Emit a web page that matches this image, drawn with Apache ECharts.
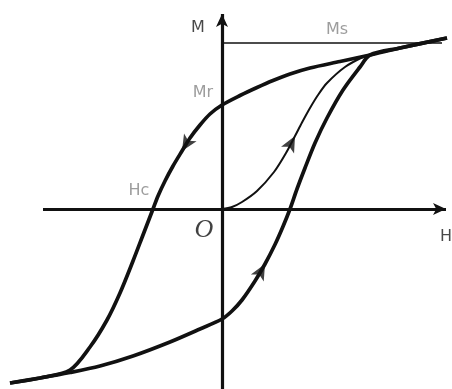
<!DOCTYPE html>
<html>
<head>
<meta charset="utf-8">
<script src="https://cdn.jsdelivr.net/npm/echarts@6/dist/echarts.min.js"></script>
<style>
  html, body { margin: 0; padding: 0; background: #fff; }
  #chart { width: 452px; height: 389px; }
</style>
</head>
<body>
<div id="chart"></div>
<script>
// Hysteresis loop M(H), arbitrary units
// Descending branch: +saturation -> Mr -> Hc -> -saturation
const H_desc = [22.5, 17.8, 14.8, 11.8, 8.8, 6.8, 5.1, 3.5, 1.8, 0, -1.2, -2.2, -3.2, -4.0, -4.9, -5.7, -6.4, -6.9, -7.9, -8.9, -10.2, -11.5, -13.2, -15.2, -18.2, -21.2];
const M_desc = [17.1, 16.1, 15.4, 14.75, 14.1, 13.5, 12.85, 12.15, 11.35, 10.4, 9.5, 8.4, 7.1, 5.8, 4.3, 2.8, 1.3, 0, -2.6, -5.2, -8.4, -11.1, -13.8, -16.1, -16.9, -17.4];
// Ascending branch: -saturation -> -Mr -> +Hc -> +saturation
const H_asc = [-21.2, -18.2, -15.2, -12.2, -8.9, -5.2, -2.2, 0, 1.0, 2.0, 3.3, 4.3, 5.3, 6.1, 6.8, 7.5, 8.3, 9.3, 10.5, 12.1, 13.8, 14.8, 17.8, 22.5];
const M_asc = [-17.4, -16.9, -16.35, -15.7, -14.7, -13.3, -12.0, -11.0, -10.2, -9.1, -7.2, -5.5, -3.55, -1.75, 0, 2.0, 4.1, 6.6, 9.1, 11.9, 14.2, 15.4, 16.1, 17.1];
// Initial magnetization curve from the origin
const H_init = [0, 1.0, 2.0, 3.5, 5.2, 6.4, 7.3, 8.0, 8.8, 9.6, 10.5, 12.3, 14.1, 14.8];
const M_init = [0, 0.2, 0.7, 1.8, 3.7, 5.6, 7.3, 8.65, 10.1, 11.4, 12.6, 14.2, 15.2, 15.4];

// Characteristic values
const Ms = 16.6;       // saturation magnetization
const Mr = 10.4;       // remanence
const Hc = -6.9;       // coercive field
const MsLineEnd = 22.0;

// Drawn axis extents (arrows at the positive ends)
const H_AXIS = [-17.9, 22.4];
const M_AXIS = [-18.0, 19.5];
// Scale extents of the plotting area
const H_MIN = -22.2, H_MAX = 23.0;
const M_MIN = -18.0, M_MAX = 20.9;

// Direction arrows: index of the point on each curve
const arrowDesc = 13, arrowInit = 6, arrowAsc = 11;

const pairs = (hs, ms) => hs.map((h, i) => [h, ms[i]]);

function arrowAt(hs, ms, i) {
  const dx = hs[i + 1] - hs[i - 1];
  const dy = ms[i + 1] - ms[i - 1];
  return { value: [hs[i], ms[i]], symbolRotate: Math.atan2(-dx, dy) * 180 / Math.PI };
}

const INK = '#111';
const GREY = '#858585';

function textPoint(name, value, offset, style) {
  return {
    name: name,
    value: value,
    label: Object.assign({ show: true, formatter: name, offset: offset }, style)
  };
}

const sans = { fontFamily: 'DejaVu Sans', fontSize: 16 };

const chart = echarts.init(document.getElementById('chart'), null, { renderer: 'canvas' });
chart.setOption({
  animation: false,
  backgroundColor: '#fff',
  grid: { left: 0, right: 0, top: 0, bottom: 0 },
  xAxis: { type: 'value', min: H_MIN, max: H_MAX, show: false },
  yAxis: { type: 'value', min: M_MIN, max: M_MAX, show: false },
  series: [
    {
      name: 'axes', type: 'line', symbol: 'none', silent: true, data: [],
      markLine: {
        silent: true,
        symbol: ['none', 'arrow'],
        symbolSize: [9, 13],
        label: { show: false },
        lineStyle: { color: INK, width: 3.2, type: 'solid' },
        data: [
          [{ coord: [H_AXIS[0], 0] }, { coord: [H_AXIS[1], 0] }],
          [{ coord: [0, M_AXIS[0]] }, { coord: [0, M_AXIS[1]] }]
        ]
      }
    },
    {
      name: 'Ms line', type: 'line', symbol: 'none', silent: true,
      data: [[0, Ms], [MsLineEnd, Ms]],
      lineStyle: { color: INK, width: 1.5 }
    },
    {
      name: 'descending', type: 'line', symbol: 'none', smooth: 0.3,
      data: pairs(H_desc, M_desc),
      lineStyle: { color: INK, width: 3.7 }
    },
    {
      name: 'ascending', type: 'line', symbol: 'none', smooth: 0.3,
      data: pairs(H_asc, M_asc),
      lineStyle: { color: INK, width: 3.7 }
    },
    {
      name: 'initial', type: 'line', symbol: 'none', smooth: 0.3,
      data: pairs(H_init, M_init),
      lineStyle: { color: INK, width: 2 }
    },
    {
      name: 'arrows', type: 'scatter', symbol: 'arrow', symbolSize: [11, 16],
      itemStyle: { color: INK },
      z: 5,
      data: [
        arrowAt(H_desc, M_desc, arrowDesc),
        arrowAt(H_init, M_init, arrowInit),
        arrowAt(H_asc, M_asc, arrowAsc)
      ]
    },
    {
      name: 'labels', type: 'scatter', symbolSize: 0, silent: true,
      label: { position: 'inside' },
      data: [
        textPoint('M', [0, M_AXIS[1]], [-24, 14], Object.assign({ color: '#1a1a1a' }, sans)),
        textPoint('Ms', [MsLineEnd / 2 + 0.5, Ms], [0, -13], Object.assign({ color: GREY }, sans)),
        textPoint('Mr', [0, Mr], [-19, -12], Object.assign({ color: GREY }, sans)),
        textPoint('Hc', [Hc, 0], [-14, -18], Object.assign({ color: GREY }, sans)),
        textPoint('H', [H_AXIS[1], 0], [0, 28], Object.assign({ color: '#1a1a1a' }, sans)),
        textPoint('O', [0, 0], [-18, 21], { color: '#111', fontFamily: 'Liberation Serif', fontStyle: 'italic', fontSize: 26 })
      ]
    }
  ]
});
</script>
</body>
</html>
